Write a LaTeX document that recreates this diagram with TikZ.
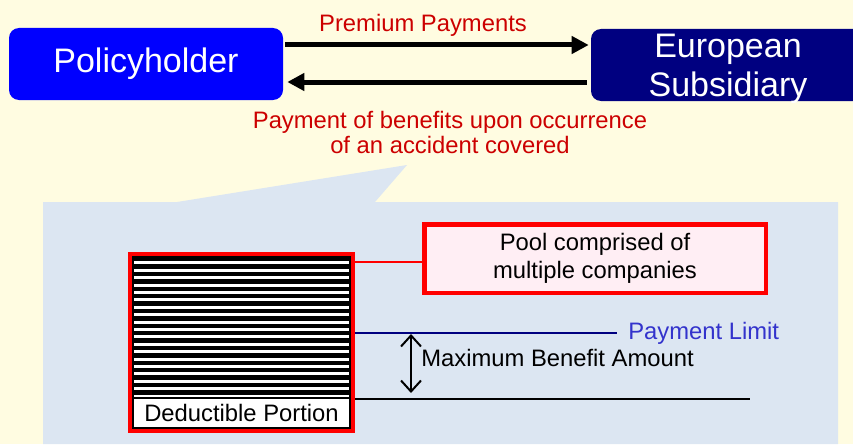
\documentclass[tikz,border=0pt]{standalone}
\usepackage{fontspec}
\setmainfont{Liberation Sans}
\usepackage{xcolor}
\usetikzlibrary{arrows.meta}
\usetikzlibrary{calc}
\usetikzlibrary{positioning}

\definecolor{cream}{HTML}{FFFCE1}
\definecolor{panel}{HTML}{DCE6F2}
\definecolor{phblue}{HTML}{0000FF}
\definecolor{navy}{HTML}{000080}
\definecolor{payred}{HTML}{CC0000}
\definecolor{poolpink}{HTML}{FFEEF4}
\definecolor{limblue}{HTML}{3333CC}

\begin{document}
\begin{tikzpicture}[x=1pt,y=-1pt,semithick]
						\tikzstyle{party}=[rounded corners=10pt, minimum width=274pt, minimum height=72pt, inner sep=0pt, text=white, font=\fontsize{34}{39}\selectfont]
						\tikzstyle{flow}=[line width=5pt, -{Triangle[length=17pt,width=17pt]}]
						\tikzstyle{note}=[text=payred, align=center, inner sep=0pt, font=\fontsize{23.8}{25}\selectfont]
						\tikzstyle{lbl}=[inner sep=0pt, font=\fontsize{23.8}{28}\selectfont]
						\tikzstyle{redbox}=[draw=red, line width=4.5pt]
						\fill[cream] (0,0) rectangle (853,444);
						\useasboundingbox (0,0) rectangle (853,444);
						% panel and its callout
						\fill[panel] (43,202) -- (177,202) -- (407,165) -- (375,202) -- (838,202) -- (838,444) -- (43,444) -- cycle;

						\node[party, fill=phblue] 		(ph) at (146,64)          	{Policyholder};
 					 	\node[party, fill=navy] 		(eu) at (728,65)           	{};
 					 	\node[lbl, align=center, text=white, font=\fontsize{34}{39}\selectfont] (eutxt) at (728,69) {European\\Subsidiary};
 					 	\node[note, anchor=base] 		(prem) at (423,32)        	{Premium Payments};
 					 	\node[note] 			(bene) at (450,132)       	{Payment of benefits upon occurrence\\of an accident covered};
 				  \path
					 ([yshift=19pt]ph.east) edge[flow, shorten <=2pt, shorten >=2pt] ([yshift=19pt]ph.east -| eu.west)
					 ([yshift=-17pt]eu.west) edge[flow, shorten <=4pt, shorten >=4pt] ([yshift=-17pt]eu.west -| ph.east);

						% deductible stack
						\node[redbox, fill=white, minimum width=222.5pt, minimum height=176.5pt] (stack) at (241.5,342.5) {};
						\draw[line width=1.5pt] (133,257) rectangle (350,428);
						\foreach \i in {0,...,18}
							\fill (134,{257+7.4*\i}) rectangle (349,{261.4+7.4*\i});
						\node[lbl, draw, line width=1.5pt, fill=white, minimum width=217pt, minimum height=30pt] (ded) at (241.5,413) {Deductible Portion};

						\node[redbox, fill=poolpink, align=center, minimum width=341.5pt, minimum height=68.5pt, font=\fontsize{23.8}{28}\selectfont] (pool) at (595,258.5) {Pool comprised of\\multiple companies};
						\draw[red, line width=2pt] ([yshift=-3.5pt]pool.west -| stack.east) -- ([yshift=-3.5pt]pool.west);

						\node[lbl, text=limblue, anchor=west] (limit) at (628,333) {Payment Limit};
						\node[lbl, anchor=west] (maxamt) at (421,357.5) {Maximum Benefit Amount};
						\coordinate (base) at (750,399);
						\coordinate (mtop) at (411,334);
						\coordinate (mbot) at (411,393);
						\draw[navy, line width=1.5pt] (limit.west -| stack.east) -- ([xshift=-11pt]limit.west);
						\draw[line width=1.5pt] (base -| stack.east) -- (base);
						\draw[line width=2pt, {Straight Barb[length=11pt,width=20pt]}-{Straight Barb[length=11pt,width=20pt]}] (mtop) -- (mbot);
				\end{tikzpicture}
\end{document}
